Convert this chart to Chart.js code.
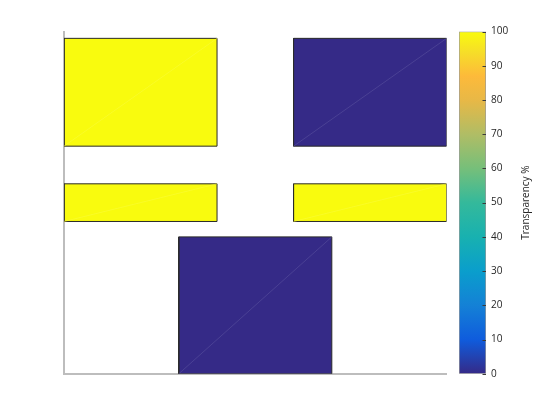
<!DOCTYPE html>
<html>
<head>
<meta charset="utf-8">
<script src="https://cdn.jsdelivr.net/npm/chart.js@4.4.1/dist/chart.umd.min.js"></script>
<style>
  html, body { margin: 0; padding: 0; background: #ffffff; }
  #wrap { position: relative; width: 560px; height: 420px; }
  #wrap canvas { position: absolute; left: 0; top: 0; }
</style>
</head>
<body>
<div id="wrap">
  <canvas id="main" width="560" height="420"></canvas>
  <canvas id="cbar" width="560" height="420"></canvas>
</div>
<script>
// ---- data ----
const rectNames   = ['top-left', 'top-right', 'middle-left', 'middle-right', 'bottom-centre'];
const rectXStart  = [0.0, 0.6, 0.0, 0.6, 0.3];
const rectXEnd    = [0.4, 1.0, 0.4, 1.0, 0.7];
const rectYStart  = [0.665, 0.665, 0.445, 0.445, 0.0];
const rectYEnd    = [0.98, 0.98, 0.555, 0.555, 0.40];
const transparency = [100, 0, 100, 100, 0];
const colorbarTicks = [0, 10, 20, 30, 40, 50, 60, 70, 80, 90, 100];
const colorbarLabel = 'Transparency %';

// ---- parula-like colormap ----
const parulaStops = [
  [0.00, [53, 42, 135]],
  [0.10, [15, 92, 221]],
  [0.20, [20, 129, 214]],
  [0.30, [10, 158, 204]],
  [0.40, [24, 177, 176]],
  [0.50, [52, 185, 155]],
  [0.60, [118, 191, 122]],
  [0.70, [176, 189, 101]],
  [0.80, [232, 184, 70]],
  [0.87, [253, 186, 58]],
  [0.94, [246, 222, 40]],
  [1.00, [249, 251, 14]]
];
function parula(t) {
  t = Math.max(0, Math.min(1, t));
  for (let i = 1; i < parulaStops.length; i++) {
    const [t1, c1] = parulaStops[i];
    const [t0, c0] = parulaStops[i - 1];
    if (t <= t1) {
      const f = (t - t0) / (t1 - t0);
      return c0.map((v, k) => Math.round(v + (c1[k] - v) * f));
    }
  }
  return parulaStops[parulaStops.length - 1][1];
}
const rgb = c => `rgb(${c[0]},${c[1]},${c[2]})`;
const lighten = (c, a) => c.map(v => Math.round(v + (255 - v) * a));

// ---- main chart: rectangles ----
const datasets = [];
rectNames.forEach((name, i) => {
  const col = parula(transparency[i] / 100);
  datasets.push({
    label: name,
    data: [
      {x: rectXStart[i], y: rectYStart[i]},
      {x: rectXEnd[i],   y: rectYStart[i]},
      {x: rectXEnd[i],   y: rectYEnd[i]},
      {x: rectXStart[i], y: rectYEnd[i]},
      {x: rectXStart[i], y: rectYStart[i]}
    ],
    showLine: true,
    fill: 'shape',
    backgroundColor: rgb(col),
    borderColor: '#2a2a2a',
    borderWidth: 1,
    pointRadius: 0,
    tension: 0,
    order: 2
  });
  datasets.push({
    label: name + ' diag',
    data: [
      {x: rectXStart[i], y: rectYStart[i]},
      {x: rectXEnd[i],   y: rectYEnd[i]}
    ],
    showLine: true,
    fill: false,
    borderColor: rgb(lighten(col, 0.18)),
    borderWidth: 0.6,
    pointRadius: 0,
    order: 1
  });
});

new Chart(document.getElementById('main'), {
  type: 'scatter',
  data: { datasets },
  options: {
    responsive: false,
    animation: false,
    events: [],
    layout: { padding: { left: 64, right: 113.4, top: 31.5, bottom: 46.2 } },
    plugins: { legend: { display: false }, tooltip: { enabled: false } },
    scales: {
      x: {
        type: 'linear', min: 0, max: 1,
        ticks: { display: false },
        grid: { display: false, drawTicks: false },
        border: { display: true, color: '#bdbdbd', width: 2 }
      },
      y: {
        type: 'linear', min: 0, max: 1,
        ticks: { display: false },
        grid: { display: false, drawTicks: false },
        border: { display: true, color: '#bdbdbd', width: 2 }
      }
    }
  }
});

// ---- colorbar chart ----
const cbPlugin = {
  id: 'cbExtras',
  afterDatasetsDraw(chart) {
    const {ctx, chartArea} = chart;
    const ys = chart.scales.y;
    ctx.save();
    ctx.strokeStyle = '#3a3a3a';
    ctx.lineWidth = 1;
    colorbarTicks.forEach(v => {
      const py = Math.round(ys.getPixelForValue(v)) + 0.5;
      ctx.beginPath();
      ctx.moveTo(chartArea.right - 3.5, py);
      ctx.lineTo(chartArea.right, py);
      ctx.stroke();
    });
    ctx.fillStyle = '#262626';
    ctx.font = '10px "Open Sans"';
    ctx.textAlign = 'center';
    ctx.textBaseline = 'middle';
    ctx.translate(chartArea.right + 40, (chartArea.top + chartArea.bottom) / 2);
    ctx.rotate(-Math.PI / 2);
    ctx.fillText(colorbarLabel, 0, 0);
    ctx.restore();
  }
};

new Chart(document.getElementById('cbar'), {
  type: 'bar',
  data: {
    labels: ['cb'],
    datasets: [{
      data: [[colorbarTicks[0], colorbarTicks[colorbarTicks.length - 1]]],
      backgroundColor(ctx) {
        const chart = ctx.chart;
        const ys = chart.scales.y;
        if (!ys) return 'rgba(0,0,0,0)';
        const y0 = ys.getPixelForValue(0), y1 = ys.getPixelForValue(100);
        if (!isFinite(y0) || !isFinite(y1) || y0 === y1) return 'rgba(0,0,0,0)';
        const g = chart.ctx.createLinearGradient(0, y0, 0, y1);
        parulaStops.forEach(([t, c]) => g.addColorStop(t, rgb(c)));
        return g;
      },
      borderColor: '#9a9a9a',
      borderWidth: 1,
      borderSkipped: false,
      categoryPercentage: 1,
      barPercentage: 1
    }]
  },
  plugins: [cbPlugin],
  options: {
    responsive: false,
    animation: false,
    events: [],
    layout: { padding: { left: 459, right: 34, top: 31.5, bottom: 46.2 } },
    plugins: { legend: { display: false }, tooltip: { enabled: false } },
    scales: {
      x: { display: false },
      y: {
        position: 'right',
        min: 0, max: 100,
        afterFit(scale) { scale.width = 40; },
        afterBuildTicks(scale) { scale.ticks = colorbarTicks.map(v => ({value: v})); },
        ticks: { padding: 5, color: '#262626', font: { family: '"Open Sans"', size: 10 } },
        grid: { display: false, drawTicks: false },
        border: { display: false }
      }
    }
  }
});
</script>
</body>
</html>
